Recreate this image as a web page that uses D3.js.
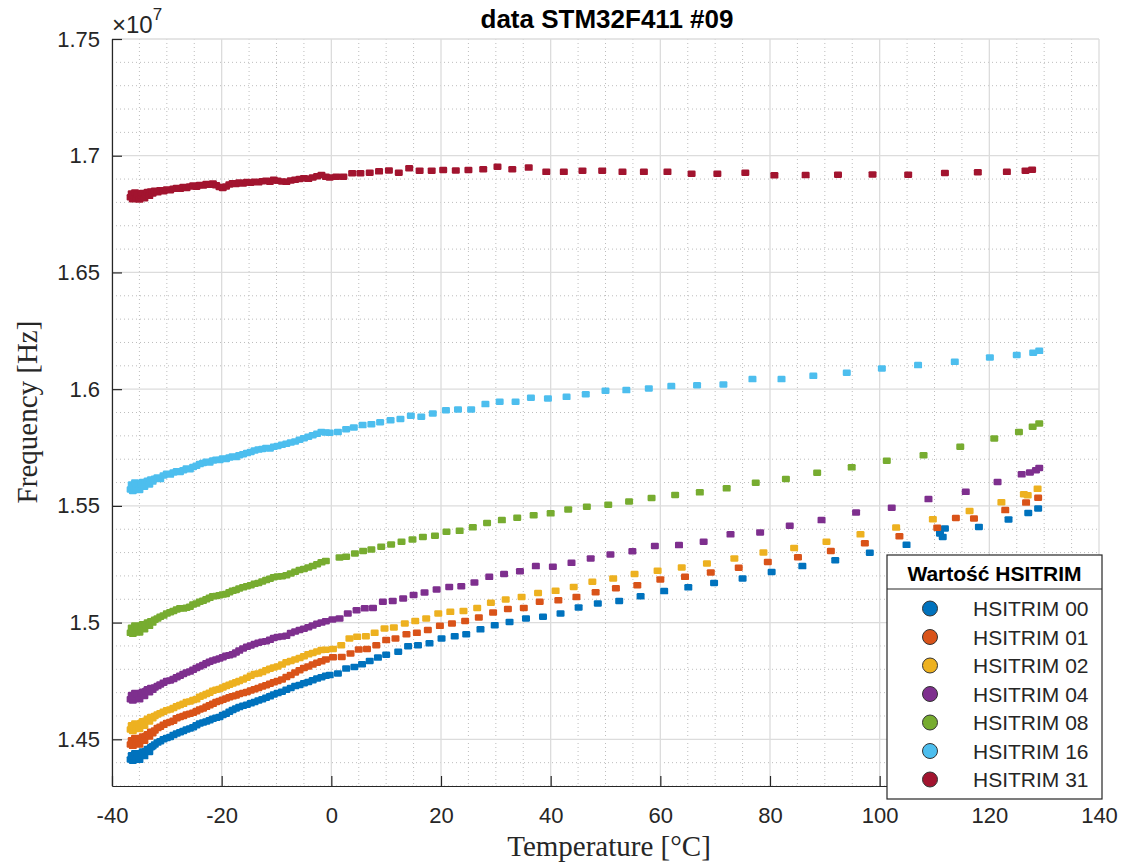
<!DOCTYPE html>
<html>
<head>
<meta charset="utf-8">
<script src="https://cdn.jsdelivr.net/npm/d3@7"></script>
<style>
  body { margin: 0; background: #fff; }
  svg { display: block; }
</style>
</head>
<body>
<div id="chart"></div>
<script>
// frequencies in MHz (axis shows them x10^7 Hz)
const seriesNames = ["HSITRIM 00", "HSITRIM 01", "HSITRIM 02", "HSITRIM 04", "HSITRIM 08", "HSITRIM 16", "HSITRIM 31"]

// cold part of the sweep, all trims sampled close together
const tempCold = [-36.6,-36.4,-36.2,-36.0,-35.8,-35.6,-35.3,-35.0,-34.7,-34.4,-34.1,-33.8,-33.5,-33.2,-32.9,-32.6,
  -32.2,-31.7,-31.2,-30.6,-30.0,-29.4,-28.8,-28.2,-27.6,-27.0,-26.4,-25.8,-25.2,-24.6,-24.0,-23.4,-22.8,-22.2,-21.6,-21.0,
  -20.4,-19.8,-19.2,-18.6,-18.0,-17.4,-16.8,-16.1,-15.4,-14.7,-14.0,-13.3,-12.6,-11.9,-11.2,-10.5,-9.8,-9.0,-8.2,-7.4,
  -6.6,-5.8,-5.0,-4.2,-3.4,-2.6,-1.8,-1.0]

const freqCold00 = [14.414,14.432,14.408,14.426,14.440,14.416,14.434,14.412,14.440,14.448,14.428,14.450,14.458,14.446,14.466,14.470,
  14.478,14.486,14.492,14.500,14.506,14.510,14.518,14.525,14.530,14.536,14.542,14.546,14.552,14.560,14.568,14.572,14.576,14.582,14.588,14.592,
  14.596,14.604,14.610,14.618,14.626,14.632,14.638,14.644,14.648,14.654,14.660,14.666,14.672,14.678,14.684,14.692,14.698,14.704,14.712,14.720,
  14.728,14.733,14.740,14.746,14.753,14.760,14.766,14.772]
const freqCold01 = [14.478,14.496,14.472,14.490,14.506,14.482,14.500,14.478,14.505,14.512,14.494,14.514,14.522,14.512,14.532,14.526,
  14.538,14.548,14.554,14.562,14.570,14.574,14.580,14.590,14.596,14.600,14.606,14.610,14.614,14.620,14.628,14.632,14.639,14.646,14.652,14.660,
  14.664,14.670,14.675,14.680,14.684,14.688,14.694,14.698,14.703,14.709,14.714,14.720,14.726,14.732,14.738,14.744,14.750,14.756,14.767,14.776,
  14.786,14.796,14.806,14.812,14.820,14.828,14.834,14.842]
const freqCold02 = [14.542,14.560,14.536,14.553,14.568,14.546,14.564,14.544,14.570,14.577,14.558,14.580,14.588,14.576,14.596,14.590,
  14.600,14.606,14.612,14.618,14.625,14.628,14.634,14.642,14.647,14.652,14.660,14.662,14.668,14.672,14.682,14.688,14.694,14.700,14.708,14.712,
  14.716,14.722,14.728,14.734,14.739,14.744,14.750,14.756,14.764,14.772,14.780,14.782,14.788,14.796,14.802,14.808,14.812,14.820,14.830,14.836,
  14.842,14.848,14.856,14.864,14.870,14.876,14.883,14.884]
const freqCold04 = [14.672,14.690,14.666,14.684,14.698,14.676,14.692,14.672,14.698,14.704,14.686,14.707,14.714,14.702,14.720,14.712,
  14.722,14.728,14.735,14.742,14.750,14.752,14.758,14.766,14.772,14.780,14.786,14.790,14.798,14.806,14.812,14.818,14.826,14.832,14.838,14.842,
  14.846,14.852,14.858,14.860,14.864,14.872,14.880,14.889,14.896,14.902,14.908,14.914,14.918,14.920,14.926,14.934,14.938,14.940,14.944,14.955,
  14.962,14.968,14.974,14.980,14.988,14.995,15.000,15.006]
const freqCold08 = [14.956,14.978,14.952,14.970,14.988,14.960,14.980,14.958,14.985,14.993,14.972,14.990,15.000,14.986,15.006,15.000,
  15.012,15.018,15.025,15.030,15.039,15.044,15.050,15.056,15.061,15.060,15.064,15.068,15.078,15.082,15.089,15.094,15.100,15.106,15.113,15.114,
  15.117,15.120,15.123,15.130,15.136,15.140,15.146,15.151,15.156,15.160,15.166,15.170,15.176,15.182,15.188,15.194,15.197,15.199,15.203,15.210,
  15.218,15.225,15.230,15.236,15.242,15.250,15.258,15.264]
const freqCold16 = [15.570,15.592,15.564,15.584,15.600,15.574,15.590,15.568,15.594,15.602,15.582,15.600,15.608,15.592,15.613,15.604,
  15.616,15.622,15.615,15.630,15.638,15.634,15.643,15.648,15.645,15.653,15.660,15.657,15.667,15.672,15.679,15.684,15.689,15.686,15.694,15.698,
  15.696,15.703,15.701,15.707,15.712,15.709,15.717,15.721,15.726,15.731,15.737,15.741,15.744,15.748,15.746,15.753,15.757,15.762,15.766,15.772,
  15.776,15.783,15.790,15.796,15.803,15.809,15.817,15.814]
const freqCold31 = [16.822,16.838,16.814,16.830,16.842,16.818,16.834,16.812,16.830,16.840,16.818,16.835,16.845,16.828,16.847,16.838,
  16.850,16.843,16.852,16.848,16.855,16.852,16.858,16.862,16.858,16.866,16.862,16.868,16.872,16.867,16.875,16.872,16.879,16.876,16.881,16.873,
  16.866,16.862,16.868,16.877,16.882,16.879,16.885,16.881,16.887,16.884,16.889,16.886,16.891,16.893,16.889,16.897,16.893,16.890,16.888,16.894,
  16.897,16.900,16.903,16.901,16.907,16.912,16.917,16.910]

// warm part: one reading of each trim per step, so every trim has its own temperatures
const tempWarm00 = [-0.3,1.2,2.7,4.2,5.6,7.0,8.5,10.0,12.2,14.0,15.8,17.9,20.1,22.5,24.6,27.2,29.8,32.5,35.5,38.6,41.8,45.1,48.6,52.5,56.4,60.7,65.1,69.8,75.0,80.3,85.9,91.9,98.2,104.9,111.0,111.5,111.9,118.1,123.5,127.1,128.9]
const freqWarm00 = [14.775,14.782,14.803,14.810,14.822,14.836,14.850,14.862,14.875,14.899,14.903,14.911,14.932,14.942,14.950,14.971,14.989,15.003,15.018,15.025,15.039,15.065,15.082,15.093,15.113,15.135,15.151,15.170,15.189,15.217,15.242,15.267,15.299,15.333,15.382,15.367,15.403,15.410,15.442,15.470,15.489]
const tempWarm01 = [0.3,1.9,3.5,5.0,6.5,8.2,10.0,11.7,13.7,15.6,17.6,19.8,22.0,24.4,26.9,29.5,32.2,35.1,38.0,41.4,44.7,48.2,51.9,55.8,60.0,64.5,69.2,74.3,79.6,85.1,91.1,97.3,103.6,110.5,113.9,117.2,122.9,126.7,128.9]
const freqWarm01 = [14.852,14.853,14.868,14.885,14.887,14.903,14.925,14.932,14.950,14.956,14.968,14.986,14.996,15.007,15.022,15.043,15.058,15.063,15.089,15.096,15.110,15.130,15.147,15.160,15.185,15.196,15.215,15.235,15.260,15.280,15.307,15.340,15.370,15.406,15.448,15.446,15.482,15.514,15.535]
const tempWarm02 = [0.3,1.8,3.3,4.7,6.3,7.9,9.7,11.4,13.4,15.3,17.3,19.5,21.7,24.1,26.6,29.1,31.8,34.7,37.7,40.9,44.2,47.6,51.4,55.3,59.5,63.9,68.5,73.5,78.8,84.4,90.3,96.5,103.0,109.7,116.4,122.2,126.3,127.0,128.8]
const freqWarm02 = [14.887,14.903,14.932,14.939,14.942,14.956,14.975,14.979,14.996,15.007,15.018,15.039,15.046,15.050,15.063,15.085,15.099,15.110,15.127,15.136,15.153,15.175,15.189,15.208,15.222,15.236,15.253,15.275,15.300,15.320,15.346,15.378,15.407,15.443,15.478,15.516,15.550,15.546,15.573]
const tempWarm04 = [0.2,1.5,3.0,4.6,6.1,7.6,9.4,11.2,13.1,15.0,17.0,19.2,21.5,23.7,26.1,28.8,31.5,34.4,37.3,40.4,43.8,47.3,50.9,54.9,59.0,63.4,67.9,72.8,78.2,83.6,89.4,95.7,102.2,108.9,115.7,121.5,125.9,127.4,128.5,129.1]
const freqWarm04 = [15.013,15.018,15.039,15.053,15.061,15.063,15.089,15.093,15.103,15.118,15.129,15.142,15.153,15.156,15.172,15.196,15.208,15.220,15.242,15.239,15.256,15.275,15.292,15.306,15.328,15.332,15.346,15.378,15.386,15.415,15.439,15.472,15.492,15.529,15.560,15.602,15.635,15.643,15.653,15.662]
const tempWarm08 = [1.5,2.7,4.3,5.8,7.3,9.1,10.9,12.8,14.8,16.7,18.9,21.0,23.4,25.8,28.4,31.1,33.9,36.9,40.0,43.2,46.6,50.5,54.3,58.4,62.7,67.2,72.1,77.4,82.9,88.6,94.9,101.3,108.0,114.7,120.9,125.4,127.9,129.1]
const freqWarm08 = [15.279,15.282,15.296,15.307,15.313,15.325,15.335,15.346,15.356,15.367,15.372,15.389,15.393,15.408,15.427,15.439,15.449,15.460,15.468,15.485,15.496,15.505,15.519,15.534,15.547,15.558,15.575,15.599,15.615,15.642,15.665,15.693,15.717,15.753,15.789,15.817,15.839,15.853]
const tempWarm16 = [-0.3,1.2,2.7,4.1,5.7,7.3,8.9,10.8,12.6,14.5,16.4,18.5,20.9,23.1,25.5,28.1,30.7,33.6,36.4,39.5,42.9,46.4,50.0,53.8,57.9,62.0,66.7,71.5,76.8,82.1,87.9,94.0,100.4,107.0,113.7,120.1,125.0,128.0,129.1]
const freqWarm16 = [15.813,15.817,15.828,15.836,15.846,15.850,15.858,15.867,15.872,15.886,15.882,15.896,15.910,15.913,15.913,15.936,15.946,15.946,15.963,15.960,15.967,15.978,15.993,15.996,16.003,16.013,16.017,16.020,16.043,16.043,16.057,16.070,16.089,16.103,16.117,16.136,16.146,16.156,16.164]
const tempWarm31 = [-0.3,0.9,2.2,3.8,5.3,7.0,8.7,10.5,12.3,14.2,16.1,18.3,20.4,22.7,25.0,27.7,30.3,33.0,36.0,39.2,42.4,45.8,49.4,53.1,57.0,61.3,65.7,70.4,75.5,80.8,86.5,92.4,98.7,105.2,111.9,117.9,123.2,126.6,127.8]
const freqWarm31 = [16.907,16.910,16.910,16.925,16.925,16.927,16.933,16.937,16.927,16.946,16.936,16.936,16.939,16.937,16.939,16.942,16.953,16.942,16.949,16.931,16.931,16.936,16.936,16.931,16.931,16.931,16.923,16.923,16.927,16.916,16.917,16.919,16.920,16.919,16.926,16.929,16.931,16.936,16.940]

const xTicks = [-40, -20, 0, 20, 40, 60, 80, 100, 120, 140]
const yTicks = [14.5, 15.0, 15.5, 16.0, 16.5, 17.0, 17.5]
const yTickLabels = ["1.45", "1.5", "1.55", "1.6", "1.65", "1.7", "1.75"]

const colors = ["#0072BD", "#D95319", "#EDB120", "#7E2F8E", "#77AC30", "#4DBEEE", "#A2142F"]

const coldFreqs = [freqCold00, freqCold01, freqCold02, freqCold04, freqCold08, freqCold16, freqCold31]
const warmTemps = [tempWarm00, tempWarm01, tempWarm02, tempWarm04, tempWarm08, tempWarm16, tempWarm31]
const warmFreqs = [freqWarm00, freqWarm01, freqWarm02, freqWarm04, freqWarm08, freqWarm16, freqWarm31]

const width = 1130, height = 862
const plotL = 112, plotR = 1099, plotT = 39, plotB = 786

const svg = d3.select("#chart").append("svg")
    .attr("width", width)
    .attr("height", height)
    .style("font-family", "'Liberation Sans', Arial, Helvetica, sans-serif")

const x = d3.scaleLinear().domain([-40, 140]).range([plotL, plotR])
const y = d3.scaleLinear().domain([14.3, 17.5]).range([plotB, plotT])

// minor grid (dotted)
const minorX = d3.range(-35, 140, 5).filter(v => v % 20 !== 0)
const minorY = d3.range(143, 175, 1).filter(v => v % 5 !== 0).map(v => v / 10)
const grid = svg.append("g")
grid.selectAll(".mx").data(minorX).join("line")
    .attr("x1", d => x(d)).attr("x2", d => x(d))
    .attr("y1", plotT).attr("y2", plotB)
    .attr("stroke", "#bdbdbd").attr("stroke-width", 1).attr("stroke-dasharray", "1,3")
grid.selectAll(".my").data(minorY).join("line")
    .attr("x1", plotL).attr("x2", plotR)
    .attr("y1", d => y(d)).attr("y2", d => y(d))
    .attr("stroke", "#bdbdbd").attr("stroke-width", 1).attr("stroke-dasharray", "1,3")

// major grid
grid.selectAll(".gx").data(xTicks).join("line")
    .attr("x1", d => x(d)).attr("x2", d => x(d))
    .attr("y1", plotT).attr("y2", plotB)
    .attr("stroke", "#dcdcdc").attr("stroke-width", 1.3)
grid.selectAll(".gy").data(yTicks).join("line")
    .attr("x1", plotL).attr("x2", plotR)
    .attr("y1", d => y(d)).attr("y2", d => y(d))
    .attr("stroke", "#dcdcdc").attr("stroke-width", 1.3)

// data points
seriesNames.forEach((name, i) => {
    const pts = tempCold.map((t, j) => [t, coldFreqs[i][j]])
        .concat(warmTemps[i].map((t, j) => [t, warmFreqs[i][j]]))
    svg.append("g").selectAll("rect").data(pts).join("rect")
        .attr("x", d => x(d[0]) - 4)
        .attr("y", d => y(d[1]) - 3.25)
        .attr("width", 8)
        .attr("height", 6.5)
        .attr("rx", 1.2)
        .attr("fill", colors[i])
})

// axes
const xAxis = svg.append("g")
    .attr("transform", `translate(0,${plotB})`)
    .call(d3.axisBottom(x).tickValues(xTicks).tickFormat(d => String(d)).tickSize(-10).tickPadding(21).tickSizeOuter(0))
const yAxis = svg.append("g")
    .attr("transform", `translate(${plotL},0)`)
    .call(d3.axisLeft(y).tickValues(yTicks).tickFormat((d, i) => yTickLabels[i]).tickSize(-10).tickPadding(12).tickSizeOuter(0))
;[xAxis, yAxis].forEach(a => {
    a.select(".domain").attr("stroke", "#262626").attr("stroke-width", 1.2)
    a.selectAll(".tick line").attr("stroke", "#262626").attr("stroke-width", 1.2)
    a.selectAll(".tick text").attr("fill", "#262626")
        .style("font-size", "22px")
        .style("font-family", "'Liberation Sans', Arial, sans-serif")
})

// exponent
const expo = svg.append("text")
    .attr("x", 112).attr("y", 33)
    .attr("fill", "#262626")
    .style("font-size", "24px")
expo.append("tspan").text("\u00d710")
expo.append("tspan").attr("dy", -13).style("font-size", "17px").text("7")

// title
svg.append("text")
    .attr("x", 607).attr("y", 28)
    .attr("text-anchor", "middle")
    .style("font-size", "26px").style("font-weight", "bold")
    .attr("fill", "#000")
    .text("data STM32F411 #09")

// axis labels
svg.append("text")
    .attr("x", 609).attr("y", 856)
    .attr("text-anchor", "middle")
    .style("font-family", "'Liberation Serif', 'Times New Roman', serif")
    .style("font-size", "29px")
    .attr("fill", "#262626")
    .text("Temperature [\u00b0C]")
svg.append("text")
    .attr("transform", "translate(37,412) rotate(-90)")
    .attr("text-anchor", "middle")
    .style("font-family", "'Liberation Serif', 'Times New Roman', serif")
    .style("font-size", "29px")
    .attr("fill", "#262626")
    .text("Frequency [Hz]")

// legend
const lg = svg.append("g")
lg.append("rect")
    .attr("x", 887).attr("y", 555).attr("width", 215).attr("height", 244)
    .attr("fill", "#fff").attr("stroke", "#262626").attr("stroke-width", 1.2)
lg.append("line")
    .attr("x1", 887).attr("x2", 1102).attr("y1", 589).attr("y2", 589)
    .attr("stroke", "#262626").attr("stroke-width", 1.2)
lg.append("text")
    .attr("x", 994.5).attr("y", 581)
    .attr("text-anchor", "middle")
    .style("font-size", "21px").style("font-weight", "bold")
    .attr("fill", "#000")
    .text("Warto\u015b\u0107 HSITRIM")
const items = lg.selectAll(".item").data(seriesNames).join("g")
    .attr("transform", (d, i) => `translate(0,${608.5 + i * 28.5})`)
items.append("circle")
    .attr("cx", 930).attr("cy", 0).attr("r", 7.5)
    .attr("fill", (d, i) => colors[i])
    .attr("stroke", "#333").attr("stroke-width", 1)
items.append("text")
    .attr("x", 973).attr("y", 7.5)
    .style("font-size", "21px")
    .attr("fill", "#262626")
    .text(d => d)
</script>
</body>
</html>
